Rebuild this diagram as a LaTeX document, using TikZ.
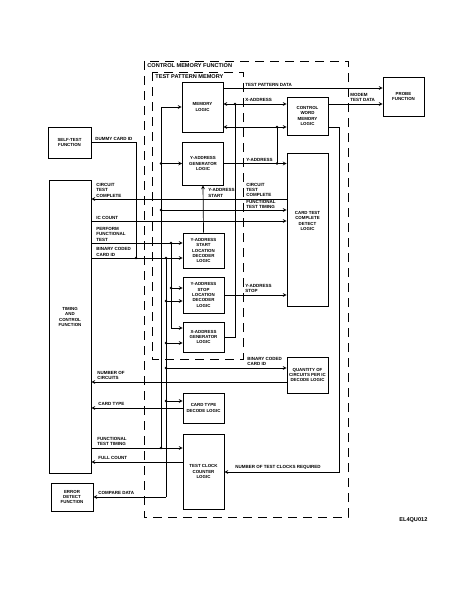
\documentclass[tikz,border=0pt]{standalone}
\usepackage{fontspec}
\setmainfont{Liberation Sans}
\tikzset{
  blk/.style={draw, line width=0.8pt, minimum width=41pt, inner sep=0pt, align=center,
    font=\bfseries\fontsize{4.4}{5.4}\selectfont},
  txt/.style={inner sep=0pt, align=center, font=\bfseries\fontsize{4.4}{5.4}\selectfont},
  lbl/.style={inner sep=0pt, align=left, anchor=south west,
    font=\bfseries\fontsize{4.5}{5.3}\selectfont},
  ttl/.style={inner sep=0pt, anchor=north west, font=\bfseries\fontsize{5.6}{6.5}\selectfont},
  dashbox/.style={line width=0.8pt, dash pattern=on 9pt off 6pt}
}
\begin{document}
\begin{tikzpicture}[x=1pt, y=-1pt, line width=0.7pt, >=stealth]
        \useasboundingbox (0,0) rectangle (471,610);

        %%%%%%%%%% Riquadri tratteggiati %%%%%%%%%%
        \draw[dashbox] (144,61) rectangle (348,517);
        \draw[dashbox] (152,72) rectangle (243,359);
        \node[ttl] (cmf) at (147,63) {CONTROL MEMORY FUNCTION};
        \node[ttl] (tpm) at (155,74) {TEST PATTERN MEMORY};

        %%%%%%%%%% Blocchi %%%%%%%%%%
        \node[blk, minimum width=43pt, minimum height=31pt] (self) at (69.5,142.5) {SELF-TEST\\FUNCTION};
        \node[blk, minimum width=42pt, minimum height=293pt] (tcf) at (70,326.5) {};
        \node[txt] (tcftxt) at (70,317) {TIMING\\AND\\CONTROL\\FUNCTION};
        \node[blk, minimum width=42pt, minimum height=28pt] (err) at (72,497) {ERROR\\DETECT\\FUNCTION};

        \node[blk, minimum height=50pt] (mem) at (202.5,107) {MEMORY\\LOGIC};
        \node[blk, minimum height=43pt] (ygen) at (203,163.5) {Y-ADDRESS\\GENERATOR\\LOGIC};
        \node[blk, minimum height=35pt] (ystart) at (203.5,250.5) {Y-ADDRESS\\START\\LOCATION\\DECODER\\LOGIC};
        \node[blk, minimum height=36pt] (ystop) at (203.5,295) {Y-ADDRESS\\STOP\\LOCATION\\DECODER\\LOGIC};
        \node[blk, minimum height=30pt] (xgen) at (203.5,337) {X-ADDRESS\\GENERATOR\\LOGIC};
        \node[blk, minimum height=30pt] (ctype) at (203.5,408) {CARD TYPE\\DECODE LOGIC};
        \node[blk, minimum height=75pt] (tclk) at (203.5,471.5) {TEST CLOCK\\COUNTER\\LOGIC};

        \node[blk, minimum height=38pt] (cwml) at (307.5,116) {CONTROL\\WORD\\MEMORY\\LOGIC};
        \node[blk, minimum height=153pt] (ctcd) at (307.5,229.5) {};
        \node[txt] (ctcdtxt) at (307.5,221) {CARD TEST\\COMPLETE\\DETECT\\LOGIC};
        \node[blk, minimum height=36pt] (qty) at (307.5,375) {QUANTITY OF\\CIRCUITS PER IC\\DECODE LOGIC};
        \node[blk, minimum height=39pt] (probe) at (403.5,96.5) {PROBE\\FUNCTION};

        %%%%%%%%%% Punti di giunzione %%%%%%%%%%
        \coordinate (tpd) at (223,88);
        \coordinate (mdm) at (328,104);
        \coordinate (xa) at (235,104);
        \coordinate (ya) at (277,127);
        \coordinate (yb) at (277,163.5);
        \coordinate (ftv) at (161,107);
        \coordinate (ft1) at (161,163.5);
        \coordinate (ft2) at (161,210);
        \coordinate (ft3) at (161,448);
        \coordinate (ctc) at (287,199);
        \coordinate (icc) at (91,221);
        \coordinate (pft) at (171,243);
        \coordinate (pf1) at (171,288);
        \coordinate (pfb) at (171,328);
        \coordinate (bcd) at (136,258);
        \coordinate (bcc) at (166,258);
        \coordinate (bc1) at (166,301);
        \coordinate (bc2) at (166,343);
        \coordinate (bc3) at (166,368);
        \coordinate (bc4) at (166,401);
        \coordinate (bcb) at (166,497);
        \coordinate (nci) at (287,382);
        \coordinate (fc) at (183,462);
        \coordinate (ntc) at (339,472);

        %%%%%%%%%% Frecce %%%%%%%%%%
        \draw[->] (tpd) -- (probe.west |- tpd);
        \draw[->] (mdm) -- (probe.west |- mdm);
        \draw[<->] (mem.east |- xa) -- (cwml.west |- xa);
        \draw (xa) |- (xgen.east);
        \draw[<->] (mem.east |- ya) -- (cwml.west |- ya);
        \draw (ya) -- (yb);
        \draw[->] (ygen.east) -- (ctcd.west |- ygen.east);
        \draw[->] (ystart.north) -- (ygen.south);
        \draw (ftv) -- (ft3);
        \draw[->] (ftv) -- (mem.west);
        \draw[->] (ft1) -- (ygen.west);
        \draw[->] (ft2) -- (ctcd.west |- ft2);
        \draw[->] (tcf.east |- ft3) -- (tclk.west |- ft3);
        \draw[->] (ctc) -- (tcf.east |- ctc);
        \draw[->] (icc) -- (ctcd.west |- icc);
        \draw[->] (tcf.east |- pft) -- (ystart.west |- pft);
        \draw (pft) -- (pfb);
        \draw[->] (pf1) -- (ystop.west |- pf1);
        \draw[->] (pfb) -- (xgen.west |- pfb);
        \draw[->] (tcf.east |- bcd) -- (ystart.west |- bcd);
        \draw (self.east) -| (bcd);
        \draw (bcc) -- (bcb);
        \draw[->] (bc1) -- (ystop.west |- bc1);
        \draw[->] (bc2) -- (xgen.west |- bc2);
        \draw[->] (bc3) -- (qty.west |- bc3);
        \draw[->] (bc4) -- (ctype.west |- bc4);
        \draw[->] (bcb) -- (err.east |- bcb);
        \draw[->] (nci) -- (tcf.east |- nci);
        \draw[->] (ctype.west) -- (tcf.east |- ctype.west);
        \draw[->] (fc) -- (tcf.east |- fc);
        \draw[->] (ystop.east) -- (ctcd.west |- ystop.east);
        \draw[->] (cwml.east |- ya) -| (ntc) -- (tclk.east |- ntc);

        \foreach \p in {xa,ya,yb,ft1,ft2,ft3,pft,pf1,bcd,bcc,bc1,bc2,bc3,bc4}
          \fill (\p) circle (1.3pt);

        %%%%%%%%%% Etichette %%%%%%%%%%
        \node[lbl] (ltpd) at (245,86.5) {TEST PATTERN DATA};
        \node[lbl] (lxa) at (245,102) {X-ADDRESS};
        \node[lbl] (lmdm) at (350,102) {MODEM\\TEST DATA};
        \node[lbl] (lya) at (246,161.5) {Y-ADDRESS};
        \node[lbl] (lctci) at (246,197) {CIRCUIT\\TEST\\COMPLETE};
        \node[lbl] (lftti) at (246,209) {FUNCTIONAL\\TEST TIMING};
        \node[lbl] (lyas) at (208,197.5) {Y-ADDRESS\\START};
        \node[lbl] (ldci) at (95,141) {DUMMY CARD ID};
        \node[lbl] (lctc) at (96,197.5) {CIRCUIT\\TEST\\COMPLETE};
        \node[lbl] (lic) at (96,219.5) {IC COUNT};
        \node[lbl] (lpft) at (96,241.5) {PERFORM\\FUNCTIONAL\\TEST};
        \node[lbl] (lbcc) at (96,256.5) {BINARY CODED\\CARD ID};
        \node[lbl] (lyst) at (245,293) {Y-ADDRESS\\STOP};
        \node[lbl] (lbcc2) at (247,366) {BINARY CODED\\CARD ID};
        \node[lbl] (lnc) at (97,380) {NUMBER OF\\CIRCUITS};
        \node[lbl] (lct) at (98,406) {CARD TYPE};
        \node[lbl] (lftt) at (97,446) {FUNCTIONAL\\TEST TIMING};
        \node[lbl] (lfc) at (98,460) {FULL COUNT};
        \node[lbl] (lcd) at (98,495) {COMPARE DATA};
        \node[lbl] (lntc) at (235,470) {NUMBER OF TEST CLOCKS REQUIRED};
        \node[lbl, font=\bfseries\fontsize{5.6}{6.5}\selectfont] (lfig) at (399,523) {EL4QU012};
    \end{tikzpicture}
\end{document}
